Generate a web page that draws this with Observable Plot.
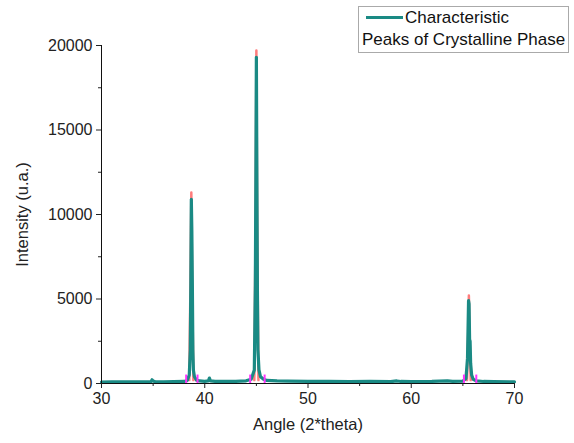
<!DOCTYPE html>
<html>
<head>
<meta charset="utf-8">
<script src="https://cdn.jsdelivr.net/npm/d3@7"></script>
<script src="https://cdn.jsdelivr.net/npm/@observablehq/plot@0.6"></script>
<style>
  body { margin: 0; background: #fff; font-family: "Liberation Sans", Arial, sans-serif; }
  #wrap { position: relative; width: 574px; height: 443px; }
  #legend { position: absolute; left: 358px; top: 6px; width: 209px; height: 45px; border: 1px solid #aaa; background: #fff; font-size: 17px; color: #111; }
  #legend .row1 { position: absolute; left: 7px; top: 1px; white-space: nowrap; }
  #legend .swatch { display: inline-block; width: 37px; height: 3px; background: #1a8a84; vertical-align: middle; margin-right: 2px; position: relative; top: -1px; }
  #legend .row2 { position: absolute; left: 3px; top: 23px; white-space: nowrap; }
</style>
</head>
<body>
<div id="wrap"></div>
<script>
// Measured XRD pattern (teal)
const angle = [30, 31, 32, 33, 34, 34.8, 34.9, 35.0, 35.2, 36, 37, 38, 38.3, 38.5, 38.6, 38.65, 38.7, 38.75, 38.8, 38.85, 38.9, 39.0, 39.2, 39.5, 40, 40.35, 40.45, 40.55, 41, 42, 43, 44, 44.5, 44.8, 44.9, 44.95, 45.0, 45.05, 45.1, 45.15, 45.25, 45.4, 45.7, 46, 47, 48, 50, 52, 54, 56, 58, 58.6, 59, 60, 62, 63.5, 64, 65, 65.3, 65.45, 65.55, 65.6, 65.65, 65.7, 65.75, 65.85, 66, 66.3, 67, 68, 70];
const intensity = [90, 100, 95, 105, 100, 110, 220, 150, 100, 105, 110, 120, 180, 500, 2000, 5800, 10900, 9000, 5800, 2000, 800, 400, 200, 150, 130, 150, 320, 160, 130, 120, 130, 160, 250, 800, 5800, 12200, 19300, 12200, 5500, 2000, 800, 400, 250, 180, 150, 140, 130, 120, 110, 120, 110, 150, 120, 110, 120, 160, 130, 140, 300, 1500, 4900, 4700, 2600, 2500, 1200, 500, 250, 150, 120, 110, 100];

// Fitted peak profiles (red)
const fitAngle = [38.5, 38.62, 38.7, 38.78, 38.9, null, 44.8, 44.93, 45.0, 45.07, 45.2, null, 65.4, 65.52, 65.58, 65.64, 65.76];
const fitIntensity = [200, 6000, 11300, 6000, 200, null, 200, 10000, 19700, 10000, 200, null, 200, 3000, 5200, 3000, 200];

// Peak boundary markers (magenta)
const markerAngle = [38.2, 39.3, 44.4, 45.8, 65.1, 66.3];

const xTicks = [30, 40, 50, 60, 70];
const xMinor = [35, 45, 55, 65];
const yTicks = [0, 5000, 10000, 15000, 20000];
const yMinor = [2500, 7500, 12500, 17500];

const series = angle.map((a, i) => ({a, v: intensity[i]}));
const fit = fitAngle.map((a, i) => ({a, v: fitIntensity[i]}));
const markers = markerAngle.map(a => ({a}));

const chart = Plot.plot({
  width: 574,
  height: 443,
  marginLeft: 101,
  marginRight: 60,
  marginTop: 45,
  marginBottom: 60,
  style: { fontFamily: "'Liberation Sans', Arial, sans-serif", fontSize: "16px", color: "#222", background: "#fff" },
  x: { domain: [30, 70] },
  y: { domain: [0, 20000] },
  marks: [
    Plot.line(fit, { x: "a", y: "v", stroke: "#ff5050", strokeWidth: 2.5, strokeOpacity: 0.75, defined: d => d.v != null }),
    Plot.line(series, { x: "a", y: "v", stroke: "#1a8a84", strokeWidth: 3.2, curve: "linear" }),
    Plot.ruleX(markers, { x: "a", y1: 0, y2: 500, stroke: "#ff33ff", strokeWidth: 2 }),
    Plot.ruleX([30], { stroke: "#111" }),
    Plot.ruleY([0], { stroke: "#111" }),
    Plot.axisX({ ticks: xTicks, tickSize: 5, tickPadding: 4, label: null, fontSize: 16, tickFormat: d => String(d) }),
    Plot.axisX({ ticks: xMinor, tickSize: 3, label: null, tickFormat: () => "" }),
    Plot.axisY({ ticks: yTicks, tickSize: 5, tickPadding: 4, label: null, fontSize: 16, tickFormat: d => String(d) }),
    Plot.axisY({ ticks: yMinor, tickSize: 3, label: null, tickFormat: () => "" }),
    Plot.text(["Angle (2*theta)"], { frameAnchor: "bottom", dy: 46, fontSize: 16.5, fill: "#222", textAnchor: "middle" }),
    Plot.text(["Intensity (u.a.)"], { frameAnchor: "left", dx: -79, rotate: -90, fontSize: 16.5, fill: "#222", textAnchor: "middle" })
  ]
});

const wrap = document.getElementById("wrap");
wrap.appendChild(chart);
const legend = document.createElement("div");
legend.id = "legend";
legend.innerHTML = '<div class="row1"><span class="swatch"></span>Characteristic</div><div class="row2">Peaks of Crystalline Phase</div>';
wrap.appendChild(legend);
</script>
</body>
</html>
